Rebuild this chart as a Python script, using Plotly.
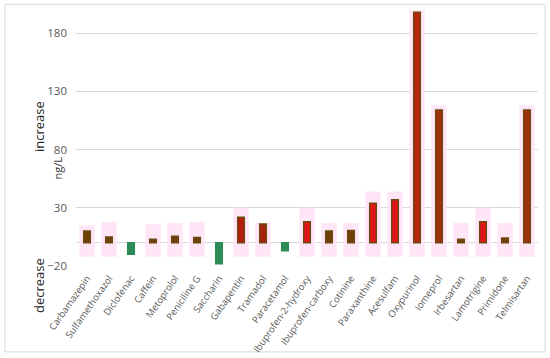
import plotly.graph_objects as go

categories = ["Carbamazepin", "Sulfamethoxazol", "Diclofenac", "Caffein", "Metoprolol",
              "Peniciline G", "Saccharin", "Gabapentin", "Tramadol", "Paracetamol",
              "Ibuprofen-2-hydroxy", "Ibuprofen-carboxy", "Cotinine", "Paraxanthine",
              "Acesulfam", "Oxypurinol", "Iomeprol", "Irbesartan", "Lamotrigine",
              "Primidone", "Telmisartan"]
values = [10, 5, -10, 3, 5.5, 4.5, -18, 22, 16, -7, 18, 10, 10.5, 34, 37, 198, 114, 3, 18, 4, 114]
range_top = [15, 18, 0, 16, 17, 18, 0, 30, 17, 0, 30, 17, 17, 44, 44, 210, 118, 17, 30, 17, 118]
range_bottom = [-12, -12, 0, -12, -12, -12, 0, -12, -12, 0, -12, -12, -12, -12, -12, -12, -12, -12, -12, -12, -12]
bar_colors = ["#6E3F05", "#6E3F05", "#2E8B57", "#6E3F05", "#6E3F05", "#6E3F05", "#2E8B57",
              "#B81A0C", "#A8200C", "#2E8B57", "#E5141B", "#6E3F05", "#6E3F05", "#E5141B",
              "#E5141B", "#B8240C", "#A0300A", "#6E3F05", "#E5141B", "#6E3F05", "#A0300A"]
line_colors = ["#6B4A10" if c != "#2E8B57" else "#2E8B57" for c in bar_colors]
tick_vals = [-20, 30, 80, 130, 180]

font = "Open Sans, Lato, sans-serif"

fig = go.Figure()
fig.add_trace(go.Bar(
    x=categories,
    y=[t - b for t, b in zip(range_top, range_bottom)],
    base=range_bottom,
    width=0.7,
    marker=dict(color="#FFE6F7", line=dict(width=0)),
    hoverinfo="skip",
    showlegend=False,
))
fig.add_trace(go.Bar(
    x=categories,
    y=values,
    width=0.3,
    marker=dict(color=bar_colors, line=dict(color=line_colors, width=1.5)),
    showlegend=False,
))

fig.update_layout(
    width=550, height=358,
    margin=dict(l=76, r=12, t=10, b=92),
    barmode="overlay",
    plot_bgcolor="white",
    paper_bgcolor="white",
    font=dict(family=font, color="#595959", size=11),
    xaxis=dict(
        tickangle=-55,
        tickfont=dict(size=9.5, color="#595959"),
        showgrid=False,
        showline=False,
        ticks="",
        automargin=False,
        ticklabelstandoff=4,
        range=[-0.5, len(categories) - 0.5],
    ),
    yaxis=dict(
        range=[-20, 200],
        tickvals=tick_vals,
        tickfont=dict(size=11.5, color="#595959"),
        showgrid=True,
        gridcolor="#D9D9D9",
        gridwidth=1,
        zeroline=True,
        zerolinecolor="#D9D9D9",
        zerolinewidth=1,
        showline=False,
        ticks="",
        automargin=False,
        ticklabelstandoff=8,
    ),
    shapes=[dict(type="rect", xref="paper", yref="paper",
                 x0=-0.1537, x1=1.0152, y0=-0.3355, y1=1.022,
                 line=dict(color="#D9D9D9", width=1), fillcolor="rgba(0,0,0,0)",
                 layer="below")],
    annotations=[
        dict(text="increase", xref="paper", yref="paper", x=-0.080, y=0.543,
             xanchor="center", yanchor="middle",
             textangle=-90, showarrow=False, font=dict(size=13, color="#262626", family=font)),
        dict(text="decrease", xref="paper", yref="paper", x=-0.080, y=-0.078,
             xanchor="center", yanchor="middle",
             textangle=-90, showarrow=False, font=dict(size=13, color="#262626", family=font)),
        dict(text="ng/L", xref="paper", yref="paper", x=-0.040, y=0.383,
             xanchor="center", yanchor="middle",
             textangle=-90, showarrow=False, font=dict(size=11, color="#404040", family=font)),
    ],
)

fig.write_html("out.html", config={"displayModeBar": False},
               post_script="document.body.style.margin='0px';")
